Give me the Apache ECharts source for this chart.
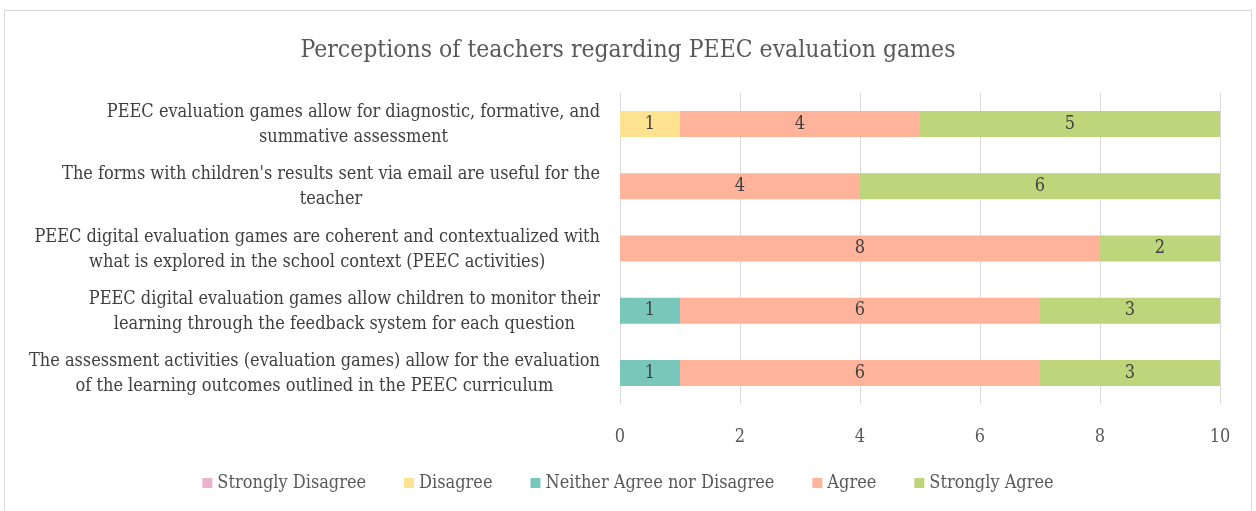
<!DOCTYPE html>
<html>
<head>
<meta charset="utf-8">
<style>
  html, body { margin: 0; padding: 0; background: #fff; }
  #frame { position: absolute; left: 4px; top: 10px; width: 1246px; height: 520px; border: 1px solid #d9d9d9; }
  #chart { position: absolute; left: 0; top: 0; width: 1256px; height: 511px; }
</style>
<script src="https://cdn.jsdelivr.net/npm/echarts@6/dist/echarts.min.js"></script>
</head>
<body>
<div id="frame"></div>
<div id="chart"></div>
<script>
// statements, top to bottom
const categories = [
    'PEEC evaluation games allow for diagnostic, formative, and\nsummative assessment',
    "The forms with children's results sent via email are useful for the\nteacher",
    'PEEC digital evaluation games are coherent and contextualized with\nwhat is explored in the school context (PEEC activities)',
    'PEEC digital evaluation games allow children to monitor their\nlearning through the feedback system for each question',
    'The assessment activities (evaluation games) allow for the evaluation\nof the learning outcomes outlined in the PEEC curriculum'
];
const stronglyDisagree = [0, 0, 0, 0, 0];
const disagree = [1, 0, 0, 0, 0];
const neither = [0, 0, 0, 1, 1];
const agree = [4, 4, 8, 6, 6];
const stronglyAgree = [5, 6, 2, 3, 3];
const xTicks = [0, 2, 4, 6, 8, 10];

const FONT = '"DejaVu Serif Condensed", "Liberation Serif", serif';

function makeSeries(name, data, color) {
    return {
        name: name,
        type: 'bar',
        stack: 'total',
        barWidth: 26,
        data: data,
        itemStyle: {color: color},
        label: {
            show: true,
            position: 'inside',
            color: '#404040',
            fontFamily: FONT,
            fontSize: 18,
            formatter: p => (p.value ? String(p.value) : '')
        }
    };
}

const option = {
    animation: false,
    title: {
        text: 'Perceptions of teachers regarding PEEC evaluation games',
        left: 'center',
        top: 33,
        textStyle: {color: '#595959', fontFamily: FONT, fontSize: 24.5, fontWeight: 'normal'}
    },
    legend: {
        bottom: 14,
        left: 'center',
        itemWidth: 10,
        itemHeight: 10,
        itemGap: 38,
        icon: 'rect',
        textStyle: {color: '#595959', fontFamily: FONT, fontSize: 18},
        data: ['Strongly Disagree', 'Disagree', 'Neither Agree nor Disagree', 'Agree', 'Strongly Agree']
    },
    grid: {left: 620, right: 36, top: 93, bottom: 107},
    xAxis: {
        type: 'value',
        min: 0,
        max: 10,
        interval: 2,
        axisLine: {show: false},
        axisTick: {show: false},
        splitLine: {lineStyle: {color: '#d9d9d9'}},
        axisLabel: {
            color: '#595959',
            fontFamily: FONT,
            fontSize: 18,
            margin: 24,
            formatter: v => (xTicks.includes(v) ? String(v) : '')
        }
    },
    yAxis: {
        type: 'category',
        inverse: true,
        data: categories,
        axisLine: {show: false},
        axisTick: {show: false},
        axisLabel: {
            margin: 20,
            align: 'right',
            // each line centred inside a right-aligned block
            formatter: v => v.split('\n').map(s => '{c|' + s + '}').join('\n'),
            rich: {
                c: {
                    align: 'center',
                    color: '#404040',
                    fontFamily: FONT,
                    fontSize: 18,
                    lineHeight: 25,
                    padding: [2, 0, 0, 0]
                }
            }
        }
    },
    series: [
        makeSeries('Strongly Disagree', stronglyDisagree, '#eab0cc'),
        makeSeries('Disagree', disagree, '#fde38f'),
        makeSeries('Neither Agree nor Disagree', neither, '#78c7ba'),
        makeSeries('Agree', agree, '#ffb39b'),
        makeSeries('Strongly Agree', stronglyAgree, '#bdd57b')
    ]
};

const myChart = echarts.init(document.querySelector('#chart'));
myChart.setOption(option);
</script>
</body>
</html>
